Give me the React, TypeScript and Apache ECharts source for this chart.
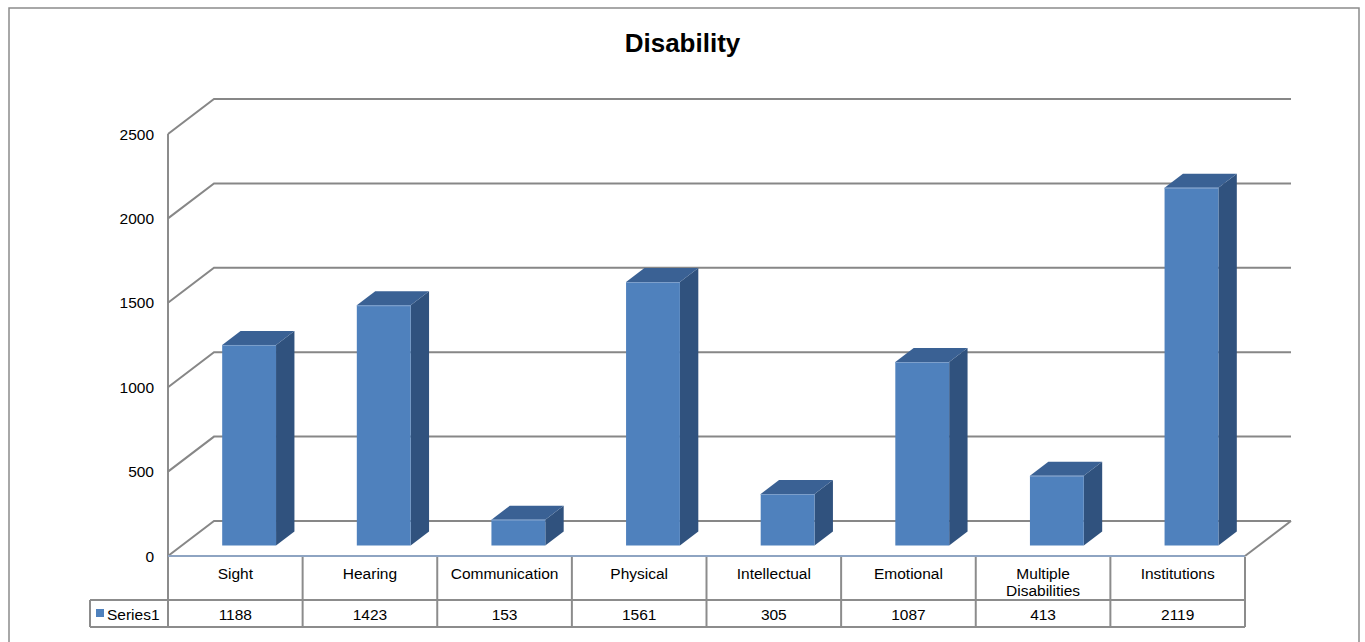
import React, { useEffect, useRef } from "react";
import * as echarts from "echarts";

// Chart data
const categories = [
  "Sight",
  "Hearing",
  "Communication",
  "Physical",
  "Intellectual",
  "Emotional",
  "Multiple\nDisabilities",
  "Institutions",
];
const values = [1188, 1423, 153, 1561, 305, 1087, 413, 2119];
const yTicks = [0, 500, 1000, 1500, 2000, 2500];
const seriesName = "Series1";
const chartTitle = "Disability";

// Geometry of the 3D box (pixels)
const W = 1365;
const H = 642;
const GRID_LEFT = 168;
const GRID_RIGHT_X = 1245;
const GRID_TOP = 134;
const GRID_BOTTOM_Y = 556;
const DEPTH_X = 46;
const DEPTH_Y = 35;
const BAR_D0 = 0.3;
const BAR_D1 = 0.7;

const FONT = "'Liberation Sans', Arial, sans-serif";
const FS = 15.5;
const GRID_COLOR = "#878787";
const TABLE_COLOR = "#8c8c8c";
const FRONT = "#4F81BD";
const SIDE = "#30527E";
const TOP = "#3A6194";

export default function App() {
  const ref = useRef<HTMLDivElement>(null);

  useEffect(() => {
    if (!ref.current) return;
    const chart = echarts.init(ref.current, null, { renderer: "svg" });

    const colW = (GRID_RIGHT_X - GRID_LEFT) / categories.length;
    const headTop = GRID_BOTTOM_Y + 1;
    const rowMid = 600;
    const rowBot = 627;
    const legendLeft = 90;

    const tableGraphics: any[] = [];
    // horizontal rules
    tableGraphics.push({
      type: "line",
      shape: { x1: legendLeft, y1: rowMid, x2: GRID_RIGHT_X, y2: rowMid },
      style: { stroke: TABLE_COLOR, lineWidth: 2 },
    });
    tableGraphics.push({
      type: "line",
      shape: { x1: legendLeft, y1: rowBot, x2: GRID_RIGHT_X, y2: rowBot },
      style: { stroke: TABLE_COLOR, lineWidth: 2 },
    });
    tableGraphics.push({
      type: "line",
      shape: { x1: legendLeft, y1: rowMid, x2: legendLeft, y2: rowBot },
      style: { stroke: TABLE_COLOR, lineWidth: 2 },
    });
    // column separators
    for (let i = 0; i <= categories.length; i++) {
      const x = GRID_LEFT + i * colW;
      tableGraphics.push({
        type: "line",
        shape: { x1: x, y1: i === 0 ? GRID_TOP : headTop, x2: x, y2: rowBot },
        style: { stroke: TABLE_COLOR, lineWidth: 2 },
      });
    }
    // category names and values
    categories.forEach((c, i) => {
      const cx = GRID_LEFT + (i + 0.5) * colW;
      tableGraphics.push({
        type: "text",
        x: cx,
        y: 565,
        style: {
          text: c,
          fill: "#000",
          font: `${FS}px ${FONT}`,
          align: "center",
          verticalAlign: "top",
          lineHeight: 17,
        },
      });
      tableGraphics.push({
        type: "text",
        x: cx,
        y: 614,
        style: {
          text: String(values[i]),
          fill: "#000",
          font: `${FS}px ${FONT}`,
          align: "center",
          verticalAlign: "middle",
        },
      });
    });
    // legend key
    tableGraphics.push({
      type: "rect",
      shape: { x: 96, y: 609, width: 8, height: 8 },
      style: { fill: FRONT },
    });
    tableGraphics.push({
      type: "text",
      x: 107,
      y: 614,
      style: {
        text: seriesName,
        fill: "#000",
        font: `${FS}px ${FONT}`,
        align: "left",
        verticalAlign: "middle",
      },
    });

    const option: any = {
      animation: false,
      backgroundColor: "#fff",
      title: {
        text: chartTitle,
        left: "center",
        top: 25,
        textStyle: { fontFamily: FONT, fontSize: 26, fontWeight: "bold", color: "#000" },
      },
      grid: {
        left: GRID_LEFT,
        right: W - GRID_RIGHT_X,
        top: GRID_TOP,
        bottom: H - GRID_BOTTOM_Y,
        containLabel: false,
      },
      xAxis: {
        type: "category",
        data: categories,
        show: false,
      },
      yAxis: {
        type: "value",
        min: 0,
        max: 2500,
        interval: 500,
        axisLine: { show: false },
        axisTick: { show: false },
        splitLine: { show: false },
        axisLabel: {
          color: "#000",
          fontSize: FS,
          fontFamily: FONT,
          margin: 14,
          formatter: (v: number) => String(v),
        },
      },
      graphic: [
        {
          type: "rect",
          shape: { x: 9, y: 8, width: 1350, height: 660 },
          style: { fill: "none", stroke: "#8c8c8c", lineWidth: 1.5 },
          z: 0,
        },
        ...tableGraphics,
      ],
      series: [
        {
          // walls: gridlines running along the left and back planes, plus the floor
          type: "custom",
          z: 1,
          data: yTicks.map((v) => [0, v]),
          renderItem: (params: any, api: any) => {
            const cs = params.coordSys;
            const v = api.value(1);
            const y = api.coord([0, v])[1];
            const left = cs.x;
            const right = cs.x + cs.width;
            const children: any[] = [
              {
                type: "polyline",
                shape: {
                  points: [
                    [left, y],
                    [left + DEPTH_X, y - DEPTH_Y],
                    [right + DEPTH_X, y - DEPTH_Y],
                  ],
                },
                style: { stroke: GRID_COLOR, lineWidth: 2, fill: "none" },
              },
            ];
            if (v === 0) {
              children.push({
                type: "line",
                shape: { x1: left, y1: y, x2: right, y2: y },
                style: { stroke: "#8ea4c2", lineWidth: 2 },
              });
              children.push({
                type: "line",
                shape: { x1: right + DEPTH_X, y1: y - DEPTH_Y, x2: right, y2: y },
                style: { stroke: GRID_COLOR, lineWidth: 2 },
              });
            }
            return { type: "group", children };
          },
        },
        {
          // 3D columns
          type: "custom",
          name: seriesName,
          z: 2,
          data: values.map((v, i) => [i, v]),
          renderItem: (params: any, api: any) => {
            const i = api.value(0);
            const v = api.value(1);
            const base = api.coord([i, 0]);
            const topP = api.coord([i, v]);
            const band = api.size([1, 0])[0];
            const w = band * 0.4;
            const ox = BAR_D0 * DEPTH_X;
            const oy = BAR_D0 * DEPTH_Y;
            const ddx = (BAR_D1 - BAR_D0) * DEPTH_X;
            const ddy = (BAR_D1 - BAR_D0) * DEPTH_Y;
            const x0 = base[0] - w / 2 + ox;
            const x1 = x0 + w;
            const yb = base[1] - oy;
            const yt = topP[1] - oy;
            return {
              type: "group",
              children: [
                {
                  type: "polygon",
                  shape: {
                    points: [
                      [x1, yt],
                      [x1 + ddx, yt - ddy],
                      [x1 + ddx, yb - ddy],
                      [x1, yb],
                    ],
                  },
                  style: { fill: SIDE },
                },
                {
                  type: "polygon",
                  shape: {
                    points: [
                      [x0, yt],
                      [x0 + ddx, yt - ddy],
                      [x1 + ddx, yt - ddy],
                      [x1, yt],
                    ],
                  },
                  style: { fill: TOP },
                },
                {
                  type: "rect",
                  shape: { x: x0, y: yt, width: w, height: yb - yt },
                  style: { fill: FRONT },
                },
                {
                  type: "line",
                  shape: { x1: x0, y1: yt + 0.5, x2: x1, y2: yt + 0.5 },
                  style: { stroke: "#7d9fcb", lineWidth: 1 },
                },
              ],
            };
          },
        },
      ],
    };

    chart.setOption(option);
    return () => chart.dispose();
  }, []);

  return (
    <div
      ref={ref}
      style={{ position: "fixed", left: 0, top: 0, width: W, height: H, background: "#fff" }}
    />
  );
}
